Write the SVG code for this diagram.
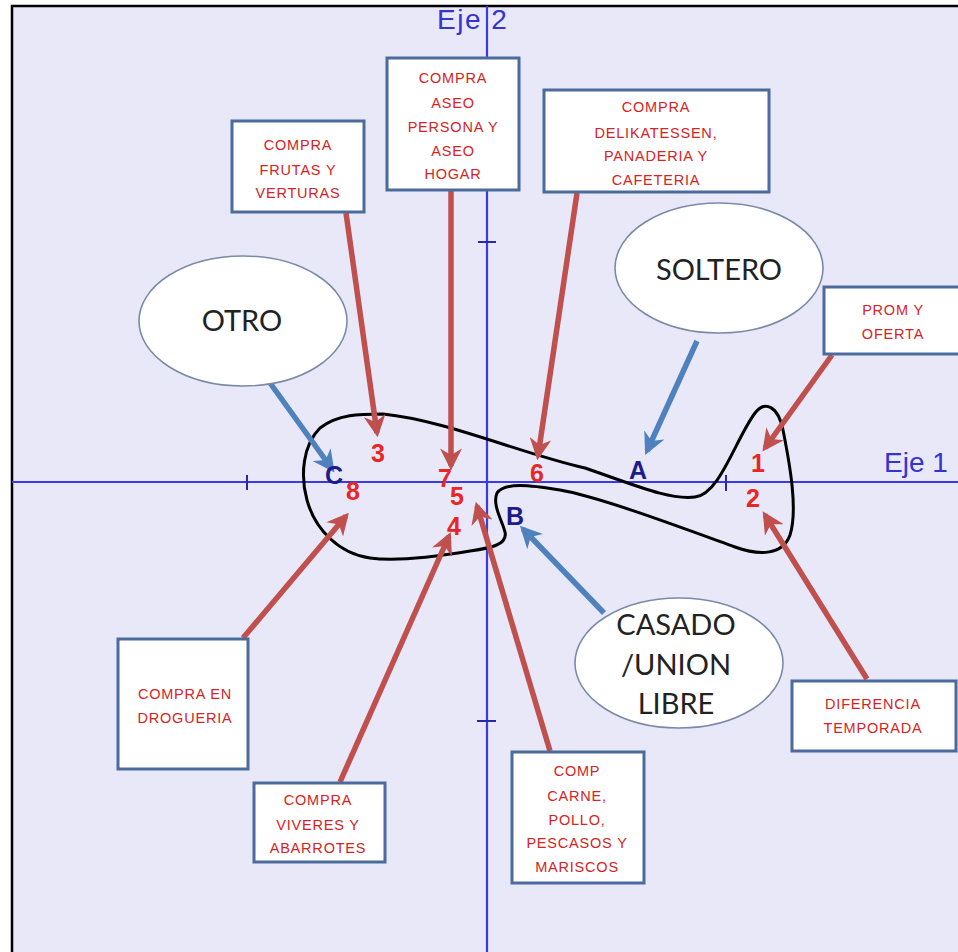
<svg xmlns="http://www.w3.org/2000/svg" width="958" height="952" viewBox="0 0 958 952">
  <style>
    .bg { fill: #e8e8f9; }
    .frame { stroke: #000; stroke-width: 2.5; fill: none; }
    .axis { stroke: #3a3ae6; stroke-width: 2.2; fill: none; }
    .tick { stroke: #2a2aa0; stroke-width: 2; }
    .axlbl { font-family: "Liberation Sans", Arial, sans-serif; font-size: 28px; fill: #3434d0; }
    .box rect { fill: #ffffff; stroke: #4a6b9b; stroke-width: 3; }
    .box text { font-family: "Liberation Sans", Arial, sans-serif; font-size: 14.5px; letter-spacing: 0.8px; fill: #d42424; text-anchor: middle; }
    .oval ellipse { fill: #ffffff; stroke: #7b8aa6; stroke-width: 1.6; }
    .oval text { font-family: Lato, "Open Sans", sans-serif; font-size: 29px; fill: #222222; text-anchor: middle; }
    .red { stroke: #c0504d; stroke-width: 5.5; fill: none; marker-end: url(#headRed); }
    .blue { stroke: #4f81bd; stroke-width: 5.5; fill: none; marker-end: url(#headBlue); }
    .num { font-family: "Liberation Sans", Arial, sans-serif; font-size: 25px; font-weight: bold; fill: #e82626; text-anchor: middle; }
    .grp { font-family: "Liberation Sans", Arial, sans-serif; font-size: 25px; font-weight: bold; fill: #1c1c8a; text-anchor: middle; }
    .blob { stroke: #000; stroke-width: 3; fill: none; }
  </style>
  <defs>
    <marker id="headRed" viewBox="0 0 10 10" refX="8" refY="5" markerWidth="4" markerHeight="4" orient="auto" markerUnits="strokeWidth">
      <path d="M0,0 L10,5 L0,10 L3,5 z" fill="#c0504d"/>
    </marker>
    <marker id="headBlue" viewBox="0 0 10 10" refX="8" refY="5" markerWidth="4" markerHeight="4" orient="auto" markerUnits="strokeWidth">
      <path d="M0,0 L10,5 L0,10 L3,5 z" fill="#4f81bd"/>
    </marker>
  </defs>

  <!-- page and plot area -->
  <rect x="0" y="0" width="958" height="952" fill="#ffffff"/>
  <rect class="bg" x="12" y="6" width="946" height="946"/>
  <path class="frame" d="M12,952 V6 H958"/>

  <!-- axes -->
  <g id="axes">
    <line class="axis" x1="12" y1="482" x2="958" y2="482"/>
    <line class="axis" x1="487" y1="6" x2="487" y2="952"/>
    <line class="tick" x1="247" y1="475" x2="247" y2="490"/>
    <line class="tick" x1="726" y1="475" x2="726" y2="491"/>
    <line class="tick" x1="478" y1="242" x2="496" y2="242"/>
    <line class="tick" x1="477" y1="721" x2="496" y2="721"/>
    <text class="axlbl" x="437" y="29" letter-spacing="1.5">Eje 2</text>
    <text class="axlbl" x="884" y="472">Eje 1</text>
  </g>

  <!-- cluster outline -->
  <path id="cluster" class="blob" d="M383,414 C445,420 525,455 585,468 C640,487 670,500 695,497 C720,494 735,440 755,413 C765,400 778,406 783,430 C790,465 798,510 790,535 C783,555 760,556 735,547 C680,527 600,497 560,490 C530,485 505,482 497,493 C492,505 502,520 505,532 C508,545 490,548 470,551 C440,556 400,562 370,558 C340,554 315,530 307,500 C300,475 303,445 320,428 C338,414 360,414 383,414 Z"/>

  <!-- connectors -->
  <g id="connectors">
    <line class="red" x1="346" y1="213" x2="377" y2="433"/>
    <line class="red" x1="451" y1="191" x2="451" y2="466"/>
    <line class="red" x1="577" y1="193" x2="538" y2="456"/>
    <line class="red" x1="832" y1="355" x2="765" y2="448"/>
    <line class="red" x1="867" y1="679" x2="765" y2="515"/>
    <line class="red" x1="243" y1="638" x2="346" y2="516"/>
    <line class="red" x1="340" y1="782" x2="449" y2="536"/>
    <line class="red" x1="550" y1="751" x2="477" y2="506"/>
    <line class="blue" x1="255" y1="362" x2="332" y2="469"/>
    <line class="blue" x1="697" y1="341" x2="647" y2="451"/>
    <line class="blue" x1="604" y1="613" x2="523" y2="529"/>
  </g>

  <!-- plotted points -->
  <g id="points">
    <text class="num" x="378" y="462">3</text>
    <text class="num" x="445" y="487">7</text>
    <text class="num" x="457" y="505">5</text>
    <text class="num" x="537" y="482">6</text>
    <text class="num" x="353" y="500">8</text>
    <text class="num" x="454" y="535">4</text>
    <text class="num" x="758" y="472">1</text>
    <text class="num" x="753" y="507">2</text>
    <text class="grp" x="638" y="479">A</text>
    <text class="grp" x="515" y="525">B</text>
    <text class="grp" x="334" y="484">C</text>
  </g>

  <!-- category boxes -->
  <g id="frutas" class="box">
    <rect x="232" y="121" width="132" height="91"/>
    <text x="298" y="150">COMPRA</text>
    <text x="298" y="175">FRUTAS Y</text>
    <text x="298" y="198">VERTURAS</text>
  </g>
  <g id="aseo" class="box">
    <rect x="387" y="58" width="132" height="132"/>
    <text x="453" y="83">COMPRA</text>
    <text x="453" y="108">ASEO</text>
    <text x="453" y="132">PERSONA Y</text>
    <text x="453" y="156">ASEO</text>
    <text x="453" y="179">HOGAR</text>
  </g>
  <g id="delikatessen" class="box">
    <rect x="544" y="90" width="225" height="102"/>
    <text x="656" y="112">COMPRA</text>
    <text x="656" y="138">DELIKATESSEN,</text>
    <text x="656" y="161">PANADERIA Y</text>
    <text x="656" y="185">CAFETERIA</text>
  </g>
  <g id="promocion" class="box">
    <rect x="824" y="287" width="142" height="67"/>
    <text x="893" y="315">PROM Y</text>
    <text x="893" y="339">OFERTA</text>
  </g>
  <g id="drogueria" class="box">
    <rect x="118" y="639" width="130" height="130"/>
    <text x="185" y="699">COMPRA EN</text>
    <text x="185" y="723">DROGUERIA</text>
  </g>
  <g id="viveres" class="box">
    <rect x="254" y="783" width="131" height="79"/>
    <text x="318" y="805">COMPRA</text>
    <text x="318" y="830">VIVERES Y</text>
    <text x="318" y="853">ABARROTES</text>
  </g>
  <g id="carnes" class="box">
    <rect x="512" y="752" width="132" height="131"/>
    <text x="577" y="776">COMP</text>
    <text x="577" y="801">CARNE,</text>
    <text x="577" y="825">POLLO,</text>
    <text x="577" y="848">PESCASOS Y</text>
    <text x="577" y="872">MARISCOS</text>
  </g>
  <g id="temporada" class="box">
    <rect x="792" y="681" width="164" height="70"/>
    <text x="873" y="709">DIFERENCIA</text>
    <text x="873" y="733">TEMPORADA</text>
  </g>

  <!-- marital status ovals -->
  <g id="otro" class="oval">
    <ellipse cx="243" cy="321" rx="104" ry="65"/>
    <text x="242" y="331">OTRO</text>
  </g>
  <g id="soltero" class="oval">
    <ellipse cx="719" cy="268" rx="104" ry="65"/>
    <text x="719" y="280">SOLTERO</text>
  </g>
  <g id="casado" class="oval">
    <ellipse cx="679" cy="663" rx="104" ry="65"/>
    <text x="676" y="635">CASADO</text>
    <text x="676" y="675">/UNION</text>
    <text x="676" y="714">LIBRE</text>
  </g>
</svg>
